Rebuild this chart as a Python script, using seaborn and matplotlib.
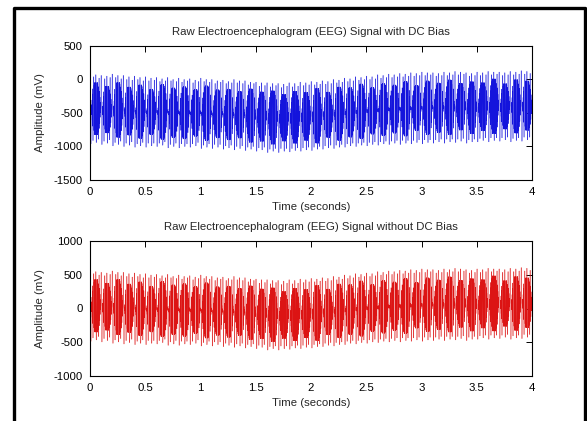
import numpy as np
import pandas as pd
import matplotlib
matplotlib.use("Agg")
import matplotlib.pyplot as plt
from matplotlib.lines import Line2D
import seaborn as sns

# ---------------- texts ----------------
title_top = "Raw Electroencephalogram (EEG) Signal with DC Bias"
title_bottom = "Raw Electroencephalogram (EEG) Signal without DC Bias"
x_label = "Time (seconds)"
y_label = "Amplitude (mV)"

# ---------------- axes ----------------
duration = 4.0
x_ticks = [0, 0.5, 1, 1.5, 2, 2.5, 3, 3.5, 4]
x_tick_labels = ["0", "0.5", "1", "1.5", "2", "2.5", "3", "3.5", "4"]
top_yticks = [-1500, -1000, -500, 0, 500]
bottom_yticks = [-1000, -500, 0, 500, 1000]

# ---------------- data (mV) ----------------
# peak values of the full-height strokes (4 per 0.1 s burst)
stroke_top = [
    90, 40, 70, 20, 60, 10, 50, 30,
    80, 30, 60, 10, 60, 0, 40, -10,
    50, 0, 30, -20, 40, -20, 20, -10,
    30, -30, 10, -20, 30, -20, 0, -30,
    20, -40, 0, -20, 10, -50, -10, -30,
    20, -30, 0, -40, 0, -60, -20, -40,
    -10, -60, -30, -50, 0, -50, -20, -60,
    -20, -80, -40, -60, -40, -100, -50, -90,
    -50, -110, -60, -90, -60, -120, -70, -100,
    -50, -110, -60, -100, -40, -90, -50, -80,
    -30, -80, -40, -70, -20, -70, -30, -60,
    0, -50, -10, -40, 20, -30, 10, -20,
    40, -10, 30, 0, 50, 0, 40, 10,
    70, 20, 60, 30, 80, 30, 70, 40,
    90, 40, 80, 50, 100, 50, 90, 60,
    110, 60, 100, 70, 100, 50, 90, 60,
    110, 60, 100, 70, 120, 70, 110, 80,
    100, 50, 90, 60, 110, 60, 100, 70,
    120, 70, 110, 80, 110, 60, 100, 70,
    120, 70, 110, 80, 130, 80, 120, 90]
# trough values of the full-height strokes (4 per burst)
stroke_bottom = [
    -960, -910, -940, -890, -970, -920, -950, -900,
    -990, -940, -970, -920, -1000, -950, -980, -930,
    -1010, -960, -990, -940, -1010, -950, -990, -950,
    -1000, -950, -980, -930, -1020, -970, -1000, -950,
    -1020, -960, -1000, -960, -1010, -960, -990, -940,
    -1030, -980, -1010, -960, -1030, -970, -1010, -970,
    -1040, -990, -1020, -980, -1050, -1000, -1030, -990,
    -1060, -1010, -1040, -1000, -1070, -1020, -1050, -1010,
    -1090, -1040, -1070, -1030, -1090, -1030, -1070, -1030,
    -1080, -1030, -1060, -1020, -1070, -1020, -1050, -1010,
    -1060, -1010, -1040, -1000, -1040, -990, -1020, -980,
    -1030, -980, -1010, -970, -1010, -960, -990, -950,
    -1000, -950, -980, -940, -990, -940, -970, -930,
    -980, -930, -960, -920, -970, -920, -950, -910,
    -970, -910, -950, -910, -960, -910, -940, -900,
    -960, -900, -940, -900, -950, -900, -930, -890,
    -950, -890, -930, -890, -940, -890, -920, -880,
    -950, -900, -930, -890, -930, -880, -910, -870,
    -930, -870, -910, -870, -920, -870, -900, -860,
    -930, -880, -910, -870, -920, -860, -900, -860]
# half height of the dense (dark) lens in each burst
burst_core = [390, 350, 410, 360, 400, 340, 410, 370, 390, 350,
              410, 360, 380, 350, 400, 370, 400, 350, 390, 360,
              410, 340, 400, 370, 410, 350, 390, 360, 410, 340,
              400, 370, 410, 350, 390, 360, 410, 340, 400, 370]
# relative swing of the dense samples across one burst (lens shape)
core_swing = [
    -0.02, 0.05, -0.09, 0.15, -0.23, 0.33, -0.44, 0.56, -0.67, 0.76,
    -0.84, 0.90, -0.94, 0.97, -0.99, 1.00, -1.00, 1.00, -1.00, 1.00,
    -1.00, 1.00, -1.00, 1.00, -1.00, 0.99, -0.97, 0.94, -0.90, 0.84,
    -0.76, 0.67, -0.56, 0.44, -0.33, 0.23, -0.15, 0.09, -0.05, 0.02]
# number of consecutive samples the signal rests at each stroke extreme
rest_samples = 4

# ---------------- assemble the sampled signal ----------------
raw = []
n_burst = len(burst_core)
for b in range(n_burst):
    tops = stroke_top[4 * b:4 * b + 4]
    bots = stroke_bottom[4 * b:4 * b + 4]
    mid = (np.mean(tops) + np.mean(bots)) / 2.0
    core = [mid + burst_core[b] * s for s in core_swing]
    for k in range(4):
        first, second = (tops[k], bots[k]) if k % 2 == 0 else (bots[k], tops[k])
        raw += [first] * rest_samples + [second] * rest_samples
        raw += core[10 * k:10 * k + 10]
raw = np.array(raw, dtype=float)
time = np.linspace(0, duration, len(raw))
no_dc = raw - raw.mean()

df = pd.DataFrame({"time": time, "raw": raw, "no_dc": no_dc})

# ---------------- figure ----------------
sns.set_style("white")
plt.rcParams["font.family"] = ["Liberation Sans", "DejaVu Sans"]
plt.rcParams["font.size"] = 8.2

fig = plt.figure(figsize=(5.87, 4.21), dpi=100, facecolor="white")
ax1 = fig.add_axes([90 / 587, 1 - 180 / 421, 442 / 587, 134 / 421])
ax2 = fig.add_axes([90 / 587, 1 - 376 / 421, 442 / 587, 135 / 421])

sns.lineplot(data=df, x="time", y="raw", ax=ax1, color="#1414dc",
             linewidth=0.3, estimator=None, sort=False)
sns.lineplot(data=df, x="time", y="no_dc", ax=ax2, color="#dc1414",
             linewidth=0.3, estimator=None, sort=False)

for ax, yt, ylim, title in [(ax1, top_yticks, (-1500, 500), title_top),
                            (ax2, bottom_yticks, (-1000, 1000), title_bottom)]:
    ax.set_xlim(0, duration)
    ax.set_ylim(*ylim)
    ax.set_xticks(x_ticks)
    ax.set_xticklabels(x_tick_labels)
    ax.set_yticks(yt)
    ax.set_yticklabels([str(v) for v in yt])
    ax.set_title(title, fontsize=8.2, pad=8)
    ax.set_xlabel(x_label, fontsize=8.2, labelpad=4)
    ax.set_ylabel(y_label, fontsize=8.2, labelpad=6)
    ax.tick_params(direction="in", length=4, width=0.7, top=True, right=True,
                   labelsize=8.2, pad=5, colors="black")
    for sp in ax.spines.values():
        sp.set_visible(True)
        sp.set_color("black")
        sp.set_linewidth(0.8)
    ax.set_facecolor("white")

# window frame (left, top, right)
fig.add_artist(Line2D([14 / 587, 14 / 587, 584.5 / 587, 584.5 / 587],
                      [0, 1 - 7.5 / 421, 1 - 7.5 / 421, 0],
                      transform=fig.transFigure, color="black", linewidth=2.4))

fig.savefig("out.png", dpi=100, facecolor="white")
